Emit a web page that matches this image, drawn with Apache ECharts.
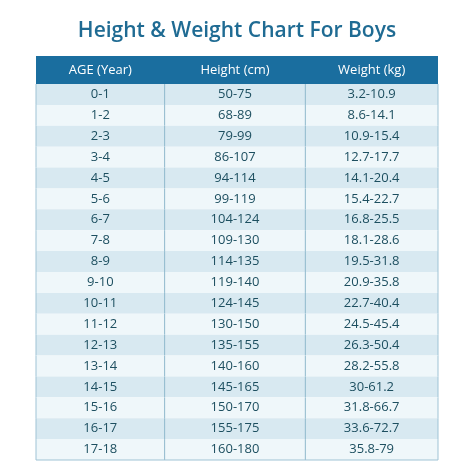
<!DOCTYPE html><html><head><meta charset="utf-8">
<script src="https://cdn.jsdelivr.net/npm/echarts@6/dist/echarts.min.js"></script>
<style>html,body{margin:0;background:#fff}#c{width:474px;height:474px}</style></head><body><div id="c"></div>
<script>
const headers = ['AGE (Year)','Height (cm)','Weight (kg)'];
const ages = ['0-1','1-2','2-3','3-4','4-5','5-6','6-7','7-8','8-9','9-10','10-11','11-12','12-13','13-14','14-15','15-16','16-17','17-18'];
const heights = ['50-75','68-89','79-99','86-107','94-114','99-119','104-124','109-130','114-135','119-140','124-145','130-150','135-155','140-160','145-165','150-170','155-175','160-180'];
const weights = ['3.2-10.9','8.6-14.1','10.9-15.4','12.7-17.7','14.1-20.4','15.4-22.7','16.8-25.5','18.1-28.6','19.5-31.8','20.9-35.8','22.7-40.4','24.5-45.4','26.3-50.4','28.2-55.8','30-61.2','31.8-66.7','33.6-72.7','35.8-79'];
const colEdges = [0, 0.32, 0.67, 1];
const HEAD = 1.34;
const chart = echarts.init(document.getElementById('c'));
const font = '"Open Sans", Lato, sans-serif';
const data = ages.map((a,i)=>[i]);
chart.setOption({
  animation:false,
  title:{text:'Height & Weight Chart For Boys',left:'center',top:16,textStyle:{color:'#1f6b93',fontSize:21,fontWeight:600,fontFamily:font}},
  grid:{left:36,right:36,top:56,bottom:14},
  xAxis:{type:'value',min:0,max:1,show:false},
  yAxis:{type:'value',min:-0.5-HEAD,max:ages.length-0.5,inverse:true,show:false},
  series:[{type:'custom',data:data,clip:false,encode:{y:0},
    renderItem:function(params,api){
      const i=api.value(0);
      const cells=[ages[i],heights[i],weights[i]];
      const p0=api.coord([0,i-0.5]), p1=api.coord([1,i+0.5]);
      const y0=p0[1], h=p1[1]-p0[1], x0=p0[0], w=p1[0]-p0[0];
      const ch=[{type:'rect',shape:{x:x0,y:y0,width:w,height:h},style:{fill:i%2===0?'#d8e9f1':'#eff7fa'}}];
      for(let c=0;c<3;c++){
        const a=api.coord([colEdges[c],i])[0], b=api.coord([colEdges[c+1],i])[0];
        ch.push({type:'text',style:{text:cells[c],x:(a+b)/2,y:y0+h/2,align:'center',verticalAlign:'middle',fill:'#1d4f60',font:'13px '+font}});
      }
      for(const e of [1,2]){const x=api.coord([colEdges[e],0])[0];
        ch.push({type:'line',shape:{x1:x,y1:y0,x2:x,y2:y0+h},style:{stroke:'#8fb8cc',lineWidth:1}});}
      ch.push({type:'line',shape:{x1:x0,y1:y0,x2:x0,y2:y0+h},style:{stroke:'#9fc3d5',lineWidth:1}});
      ch.push({type:'line',shape:{x1:x0+w,y1:y0,x2:x0+w,y2:y0+h},style:{stroke:'#9fc3d5',lineWidth:1}});
      if(i===ages.length-1) ch.push({type:'line',shape:{x1:x0,y1:y0+h,x2:x0+w,y2:y0+h},style:{stroke:'#9fc3d5',lineWidth:1}});
      if(i===0){
        const hy0=api.coord([0,-0.5-HEAD])[1];
        ch.push({type:'rect',shape:{x:x0,y:hy0,width:w,height:y0-hy0},style:{fill:'#1a6e9f'}});
        for(let c=0;c<3;c++){
          const a=api.coord([colEdges[c],i])[0], b=api.coord([colEdges[c+1],i])[0];
          ch.push({type:'text',style:{text:headers[c],x:(a+b)/2,y:(hy0+y0)/2,align:'center',verticalAlign:'middle',fill:'#ffffff',font:'500 13px '+font}});
        }
      }
      return {type:'group',children:ch};
    }}]
});
</script></body></html>
